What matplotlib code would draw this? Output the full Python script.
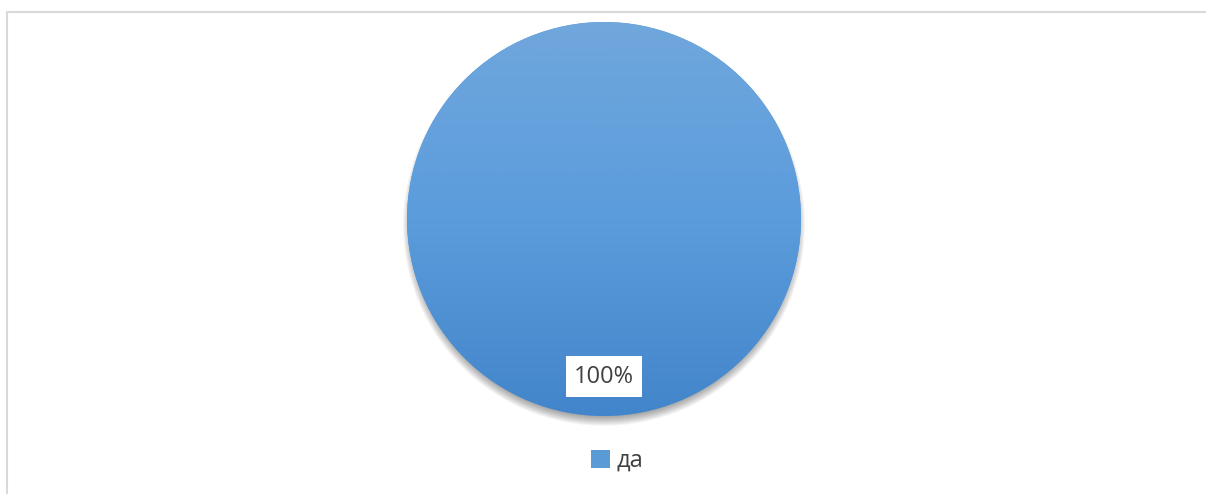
import matplotlib
matplotlib.use("Agg")
import matplotlib.pyplot as plt
import numpy as np
from matplotlib.patches import Rectangle, Circle
from matplotlib.colors import LinearSegmentedColormap

labels = ["да"]
values = [100]

W, H = 1206, 494
fig = plt.figure(figsize=(W / 100, H / 100), dpi=100)
fig.patch.set_facecolor("white")

# chart frame (light grey, only top/left visible)
fig.patches.append(Rectangle((7 / W, 0 - 0.05), 1.2, (H - 12) / H + 0.05, transform=fig.transFigure,
                             fill=False, edgecolor="#d9d9d9", linewidth=1.5, zorder=0))

cx, cy, r = 604, H - 219, 197
ax = fig.add_axes([(cx - r) / W, (cy - r) / H, 2 * r / W, 2 * r / H])

# soft shadow, mostly below the pie
for i in range(10):
    ax.add_patch(Circle((0, -0.03), 0.975 + 0.005 * i, facecolor="black", edgecolor="none",
                        alpha=0.04, zorder=0))

wedges, texts, autotexts = ax.pie(values, startangle=90, counterclock=False, radius=1,
                                  autopct="%1.0f%%", pctdistance=0.8,
                                  colors=["#5b9bd5"], wedgeprops=dict(linewidth=0),
                                  textprops=dict(color="#404040", fontsize=17, family="Open Sans"))

# vertical gradient inside the slice
cmap = LinearSegmentedColormap.from_list("g", ["#4385ca", "#5b9cdc", "#70a7dc"])
grad = np.linspace(0, 1, 256).reshape(-1, 1)
im = ax.imshow(grad, cmap=cmap, extent=[-1, 1, -1, 1], origin="lower", aspect="auto", zorder=1)
im.set_clip_path(wedges[0])

for t in autotexts:
    t.set_zorder(5)
    t.set_bbox(dict(facecolor="white", edgecolor="none", pad=6))

ax.set_xlim(-1.05, 1.05)
ax.set_ylim(-1.05, 1.05)
ax.set_position([(cx - r * 1.05) / W, (cy - r * 1.05) / H, 2 * r * 1.05 / W, 2 * r * 1.05 / H])
ax.set_aspect("equal")
ax.axis("off")

fig.legend([wedges[0]], labels, loc="center", bbox_to_anchor=(617 / W, 1 - 461 / H),
           frameon=False, handlelength=0.8, handleheight=0.8, handletextpad=0.3,
           prop=dict(family="Open Sans", size=17), labelcolor="#404040")

fig.savefig("out.png", dpi=100)
